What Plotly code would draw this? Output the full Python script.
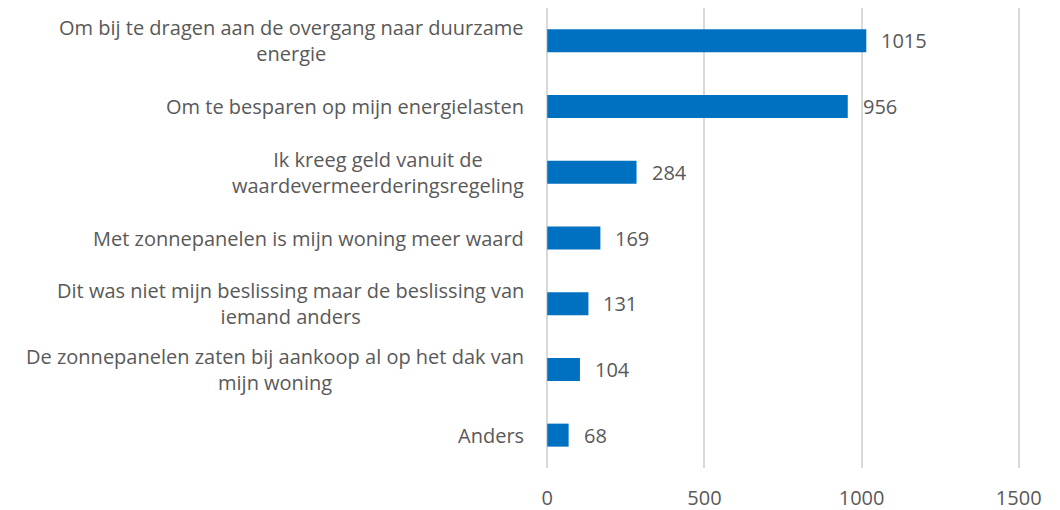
import plotly.graph_objects as go

categories = [
    "Om bij te dragen aan de overgang naar duurzame<br>energie",
    "Om te besparen op mijn energielasten",
    "Ik kreeg geld vanuit de<br>waardevermeerderingsregeling",
    "Met zonnepanelen is mijn woning meer waard",
    "Dit was niet mijn beslissing maar de beslissing van<br>iemand anders",
    "De zonnepanelen zaten bij aankoop al op het dak van<br>mijn woning",
    "Anders",
]
values = [1015, 956, 284, 169, 131, 104, 68]
x_ticks = [0, 500, 1000, 1500]

FONT = "Open Sans, Noto Sans, sans-serif"
TXT = "#595959"
FS = 20

fig = go.Figure()
fig.add_trace(go.Bar(
    x=values, y=list(range(len(categories))), orientation="h",
    marker=dict(color="#0070C0", line=dict(width=0)),
    width=0.35, hoverinfo="skip",
))

annotations = []
for i, (c, v) in enumerate(zip(categories, values)):
    annotations.append(dict(
        x=0, y=i, xref="paper", yref="y", text=c, showarrow=False,
        xanchor="right", yanchor="middle", align="center", xshift=-20,
        font=dict(family=FONT, size=FS, color=TXT),
    ))
    annotations.append(dict(
        x=v, y=i, xref="x", yref="y", text=str(v), showarrow=False,
        xanchor="left", yanchor="middle", xshift=13,
        font=dict(family=FONT, size=FS, color=TXT),
    ))

fig.update_layout(
    width=1052, height=502,
    margin=dict(l=538, r=40, t=0, b=42),
    paper_bgcolor="white", plot_bgcolor="white",
    showlegend=False,
    annotations=annotations,
    xaxis=dict(
        range=[-4, 1504], tickvals=x_ticks, ticktext=[str(t) for t in x_ticks],
        showgrid=True, gridcolor="#d9d9d9", gridwidth=1.5,
        zeroline=False, showline=False,
        ticks="outside", ticklen=12, tickcolor="rgba(0,0,0,0)",
        tickfont=dict(family=FONT, size=FS, color=TXT),
    ),
    yaxis=dict(
        range=[len(categories) - 0.5, -0.5],
        showticklabels=False, showgrid=False, zeroline=False, showline=False,
    ),
)

fig.write_html("out.html")
